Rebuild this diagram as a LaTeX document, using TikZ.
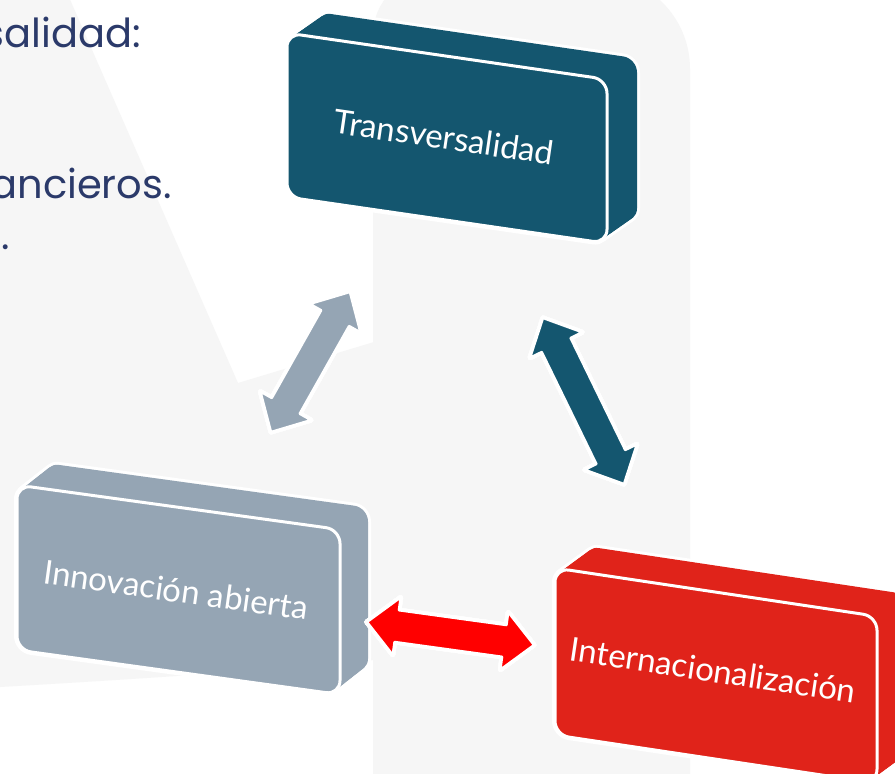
\documentclass[tikz,border=0pt]{standalone}
\usepackage{fontspec}
\setmainfont{Lato}
\newfontfamily\txtfont{Poppins}
\usetikzlibrary{calc}
\definecolor{bgray}{HTML}{F6F6F6}
\definecolor{tblue}{HTML}{14566F}
\definecolor{tgray}{HTML}{95A5B4}
\definecolor{tred}{HTML}{E0231A}
\definecolor{ared}{HTML}{FF0000}
\definecolor{navy}{HTML}{2B3A6A}
\tikzset{
  boxtext/.style={text=white,font=\fontsize{33}{38}\selectfont,inner sep=0pt},
  sidetext/.style={text=navy,font=\txtfont\fontsize{40}{47}\selectfont,inner sep=0pt},
  bgshape/.style={fill=bgray},
}
% 3D box: x y w h slope colour dx dy
\newcommand{\tbox}[8]{%
  \foreach \t in {0,0.05,...,1.001}{%
    \draw[white,line width=6pt,line join=round,rounded corners=14pt,shift={({\t*#7},{\t*#8})}]
      (#1,#2) -- ({#1+#3},{#2+#5*#3}) -- ({#1+#3},{#2+#5*#3+#4}) -- (#1,{#2+#4}) -- cycle;}
  \foreach \t in {0,0.05,...,1.001}{%
    \fill[#6,rounded corners=14pt,shift={({\t*#7},{\t*#8})}]
      (#1,#2) -- ({#1+#3},{#2+#5*#3}) -- ({#1+#3},{#2+#5*#3+#4}) -- (#1,{#2+#4}) -- cycle;}
  \filldraw[fill=#6,draw=white,line width=3pt,rounded corners=14pt]
      (#1,#2) -- ({#1+#3},{#2+#5*#3}) -- ({#1+#3},{#2+#5*#3+#4}) -- (#1,{#2+#4}) -- cycle;
}
% 3D double arrow: start coordinate, angle, length, colour, dx, dy
\newcommand{\apath}[1]{(0,0) -- (30,-29) -- (30,-16) -- ({#1-30},-16) -- ({#1-30},-29) -- (#1,0) -- ({#1-30},29) -- ({#1-30},16) -- (30,16) -- (30,29) -- cycle}
\newcommand{\tarrow}[6]{%
  \foreach \t in {0,0.08,...,1.001}{%
    \begin{scope}[shift={({\t*#5},{\t*#6})}]\begin{scope}[shift={(#1)},rotate=#2]
      \draw[white,line width=5pt,line join=round] \apath{#3};
    \end{scope}\end{scope}}
  \foreach \t in {0,0.08,...,1.001}{%
    \begin{scope}[shift={({\t*#5},{\t*#6})}]\begin{scope}[shift={(#1)},rotate=#2]
      \fill[#4,line join=round] \apath{#3};
    \end{scope}\end{scope}}
  \begin{scope}[shift={(#1)},rotate=#2]
    \filldraw[fill=#4,draw=white,line width=2.4pt,line join=round] \apath{#3};
  \end{scope}
}
\begin{document}
\begin{tikzpicture}[x=1pt,y=-1pt]
\useasboundingbox (0,0) rectangle (895,774);
\clip (0,0) rectangle (895,774);
\fill[white] (0,0) rectangle (895,774);
% background shapes
\fill[bgshape] (373,780) -- (373,35) arc[start angle=180,end angle=270,radius=60]
   -- (596,-25) arc[start angle=270,end angle=360,radius=94] -- (690,780) -- cycle;
\fill[bgshape] (0,-5) -- (68,-5) -- (238,383) -- (374,342) -- (374,660)
   .. controls (250,672) and (120,680) .. (0,687) -- cycle;
% side text fragments
\node[sidetext,anchor=base east] (t1) at (141,47) {salidad:};
\node[sidetext,anchor=base east] (t2) at (172,198) {ancieros.};
\node[sidetext,anchor=base east] (t3) at (10,249) {.};
% boxes
\tbox{287}{33}{320}{164}{0.145}{tblue}{30}{-21}
\node[boxtext,rotate=-8.3] (trans) at (444,137) {Transversalidad};
\tbox{17}{485}{323}{165}{0.138}{tgray}{28}{-22}
\node[boxtext,rotate=-7.9] (innov) at (176,590) {Innovación abierta};
\tbox{555}{568}{322}{167}{0.15}{tred}{30}{-22}
\node[boxtext,rotate=-8.5] (inter) at (713,670) {Internacionalización};
% arrows
\coordinate (g1) at (271,432);
\coordinate (g2) at (350,292);
\coordinate (b1) at (543,318);
\coordinate (b2) at (624,484);
\coordinate (r1) at (367,622);
\coordinate (r2) at (534,645);
\tarrow{g1}{60.6}{160.7}{tgray}{12}{-8}
\tarrow{b1}{-64.0}{184.7}{tblue}{14}{-8}
\tarrow{r1}{-7.85}{168.6}{ared}{9}{-12}
\end{tikzpicture}
\end{document}
